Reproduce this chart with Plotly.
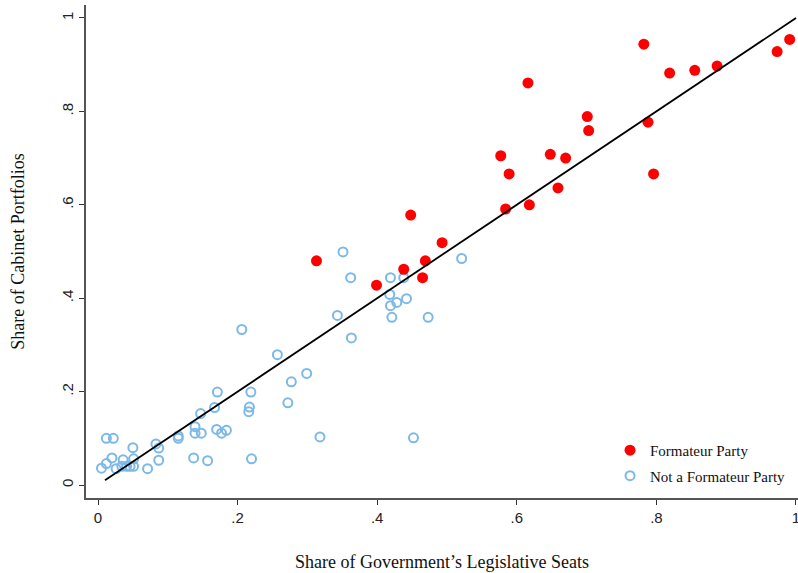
import plotly.graph_objects as go

# Formateur parties (filled red)
form_x = [0.313, 0.399, 0.448, 0.438, 0.469, 0.465, 0.493, 0.584, 0.577, 0.589,
          0.618, 0.616, 0.648, 0.659, 0.670, 0.701, 0.703, 0.782, 0.788, 0.796,
          0.819, 0.855, 0.887, 0.973, 0.991]
form_y = [0.480, 0.428, 0.578, 0.462, 0.480, 0.444, 0.519, 0.591, 0.705, 0.666,
          0.600, 0.861, 0.708, 0.636, 0.700, 0.789, 0.759, 0.944, 0.777, 0.666,
          0.882, 0.888, 0.897, 0.928, 0.954]

# Non-formateur parties (hollow blue)
non_x = [0.005, 0.012, 0.012, 0.022, 0.020, 0.026, 0.034, 0.041, 0.046, 0.051,
         0.036, 0.051, 0.050, 0.071, 0.083, 0.087, 0.087, 0.115, 0.115, 0.137,
         0.139, 0.139, 0.148, 0.147, 0.157, 0.167, 0.170, 0.177, 0.184, 0.171,
         0.206, 0.216, 0.217, 0.219, 0.220, 0.257, 0.272, 0.277, 0.299, 0.318,
         0.343, 0.351, 0.362, 0.363, 0.418, 0.419, 0.419, 0.421, 0.428, 0.438,
         0.442, 0.452, 0.473, 0.521]
non_y = [0.036, 0.046, 0.100, 0.100, 0.058, 0.035, 0.040, 0.040, 0.040, 0.040,
         0.054, 0.056, 0.080, 0.035, 0.088, 0.079, 0.053, 0.105, 0.100, 0.058,
         0.125, 0.111, 0.111, 0.153, 0.052, 0.166, 0.119, 0.111, 0.117, 0.199,
         0.333, 0.157, 0.167, 0.199, 0.056, 0.279, 0.176, 0.221, 0.239, 0.103,
         0.363, 0.499, 0.444, 0.315, 0.408, 0.444, 0.384, 0.359, 0.391, 0.444,
         0.399, 0.101, 0.359, 0.485]

# 45-degree reference line
line_x = [0.01, 1.0]
line_y = [0.01, 1.0]

tick_vals = [0, 0.2, 0.4, 0.6, 0.8, 1]
tick_text = ["0", ".2", ".4", ".6", ".8", "1"]

serif = "Liberation Serif, Times New Roman, serif"
sans = "Liberation Sans, Arial, sans-serif"

fig = go.Figure()
fig.add_trace(go.Scatter(
    x=non_x, y=non_y, mode="markers", name="Not a Formateur Party",
    marker=dict(symbol="circle-open", size=9, color="#7DB9E8", line=dict(width=2, color="#7DB9E8")),
    legendrank=2, legendgroup="b"))
fig.add_trace(go.Scatter(
    x=form_x, y=form_y, mode="markers", name="Formateur Party",
    marker=dict(symbol="circle", size=11, color="#FF0000"),
    legendrank=1, legendgroup="a"))
fig.add_trace(go.Scatter(
    x=line_x, y=line_y, mode="lines", showlegend=False,
    line=dict(color="black", width=1.8), hoverinfo="skip"))

axis_common = dict(
    showgrid=False, zeroline=False, showline=True, linecolor="#555555", linewidth=1.5,
    ticks="outside", ticklen=5, tickwidth=1.2, tickcolor="#333333",
    tickvals=tick_vals, ticktext=tick_text, ticklabeloverflow="allow", automargin=False,
    tickfont=dict(family=sans, size=15, color="#222222"),
)

fig.update_layout(
    width=798, height=573,
    margin=dict(l=86, r=0, t=5, b=75, autoexpand=False),
    plot_bgcolor="white", paper_bgcolor="white",
    xaxis=dict(range=[-0.0172, 1.0029], title=dict(text="Share of Government’s Legislative Seats",
               font=dict(family=serif, size=18, color="#111111"), standoff=31), **axis_common),
    yaxis=dict(range=[-0.0278, 1.0278], tickangle=-90,
               title=dict(text="Share of Cabinet Portfolios",
                          font=dict(family=serif, size=18, color="#111111"), standoff=30), **axis_common),
    legend=dict(x=0.736, y=0.130, xanchor="left", yanchor="top", bgcolor="rgba(0,0,0,0)",
                font=dict(family=serif, size=15, color="#111111"), tracegroupgap=3),
    showlegend=True,
)

fig.write_html("out.html")
